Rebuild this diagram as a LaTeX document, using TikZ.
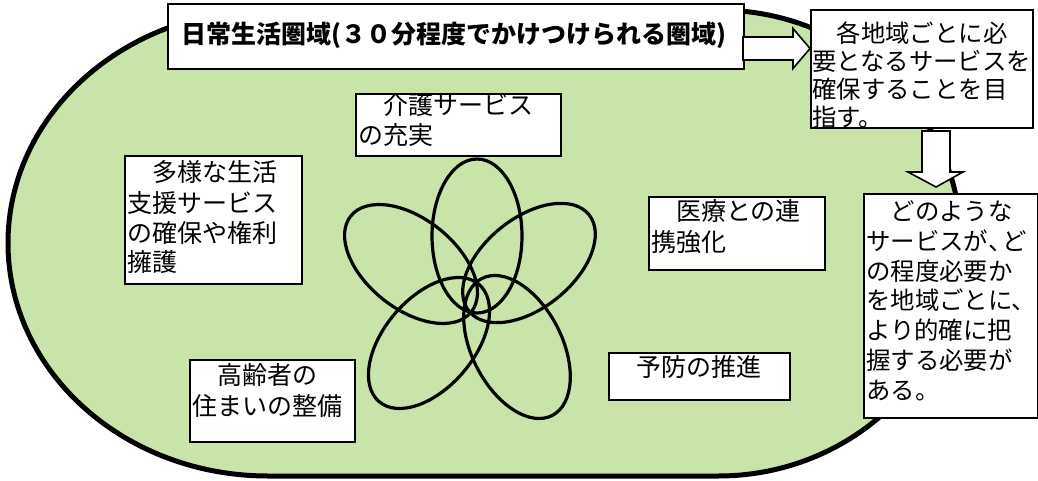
\documentclass[tikz,border=0pt]{standalone}
\usepackage{fontspec}
\newfontfamily\cjk{Noto Sans CJK JP}
\definecolor{fieldgreen}{RGB}{200,228,168}
\begin{document}
\begin{tikzpicture}[x=1pt,y=-1pt,
  box/.style={draw=black, line width=1.6pt, fill=white, inner sep=0pt, anchor=north west},
  ln/.style={anchor=base west, inner sep=0pt, font=\cjk\fontsize{25}{25}\selectfont},
  lnsmall/.style={anchor=base west, inner sep=0pt, font=\cjk\fontsize{24.4}{24.4}\selectfont},
  petal/.style={draw=black, line width=3.2pt},
  blockarrow/.style={draw=black, line width=1.6pt, fill=white, line join=miter}]
\useasboundingbox (0,0) rectangle (1038,481);
% field
\path[fill=fieldgreen, draw=black, line width=5pt]
  (268,10) -- (718,10) arc[start angle=90, end angle=-90, x radius=243pt, y radius=233pt]
  -- (268,476) arc[start angle=270, end angle=90, x radius=260pt, y radius=233pt] -- cycle;
% flower
\draw[petal] (477,236) ellipse[x radius=45pt, y radius=77pt];
\draw[petal, rotate around={141.5:(411,264)}] (411,264) ellipse[x radius=77pt, y radius=45pt];
\draw[petal, rotate around={38.8:(529,263)}] (529,263) ellipse[x radius=77pt, y radius=45pt];
\draw[petal, rotate around={49.6:(429,343)}] (429,343) ellipse[x radius=77pt, y radius=45pt];
\draw[petal, rotate around={117.2:(517,347)}] (517,347) ellipse[x radius=77pt, y radius=45pt];
% title
\node[box, line width=2pt, minimum width=576pt, minimum height=65pt] (title) at (167,3) {};
\node[anchor=base, inner sep=0pt, font=\cjk\bfseries\fontsize{25}{25}\selectfont] (titletext) at (454,44) {日常生活圏域(３０分程度でかけつけられる圏域)};
% goal box
\node[box, minimum width=222pt, minimum height=118pt] (goal) at (810,9) {};
\node[lnsmall] (g1) at (812,43) {　各地域ごとに必};
\node[lnsmall] (g2) at (812,71) {要となるサービスを};
\node[lnsmall] (g3) at (812,99) {確保することを目};
\node[lnsmall] (g4) at (812,127) {指す。};
% need box
\node[box, minimum width=174pt, minimum height=224pt] (need) at (863,193) {};
\node[lnsmall] (n1) at (866,220) {　どのような};
\node[lnsmall] (n2) at (866,250) {サービスが\makebox[0.6em][l]{、}ど};
\node[lnsmall] (n3) at (866,280) {の程度必要か};
\node[lnsmall] (n4) at (866,309) {を地域ごとに、};
\node[lnsmall] (n5) at (866,339) {より的確に把};
\node[lnsmall] (n6) at (866,369) {握する必要が};
\node[lnsmall] (n7) at (866,399) {ある。};
% care box
\node[box, minimum width=205pt, minimum height=62pt] (care) at (355,93) {};
\node[ln] (c1) at (358,115) {　介護サービス};
\node[ln] (c2) at (358,145) {の充実};
% support box
\node[box, minimum width=177pt, minimum height=128pt] (support) at (124,155) {};
\node[ln] (s1) at (127,182) {　多様な生活};
\node[ln] (s2) at (127,212) {支援サービス};
\node[ln] (s3) at (127,242) {の確保や権利};
\node[ln] (s4) at (127,271) {擁護};
% housing box
\node[box, minimum width=165pt, minimum height=82pt] (house) at (189,359) {};
\node[ln] (h1) at (192,384) {　高齢者の};
\node[ln] (h2) at (192,415) {住まいの整備};
% medical box
\node[box, minimum width=176pt, minimum height=73pt] (medical) at (648,196) {};
\node[ln] (m1) at (651,220) {　医療との連};
\node[ln] (m2) at (651,251) {携強化};
% prevention box
\node[box, minimum width=181pt, minimum height=47pt] (prevent) at (608,352) {};
\node[ln] (p1) at (611,376) {　予防の推進};
% block arrows
\draw[blockarrow] (743,37) -- (793,37) -- (793,28.5) -- (810,48.5)
  -- (793,68.5) -- (793,60) -- (743,60) -- cycle;
\draw[blockarrow] (922,131) -- (950,131) -- (950,172) -- (963,172) -- (936,187)
  -- (908,172) -- (922,172) -- cycle;
\end{tikzpicture}
\end{document}
